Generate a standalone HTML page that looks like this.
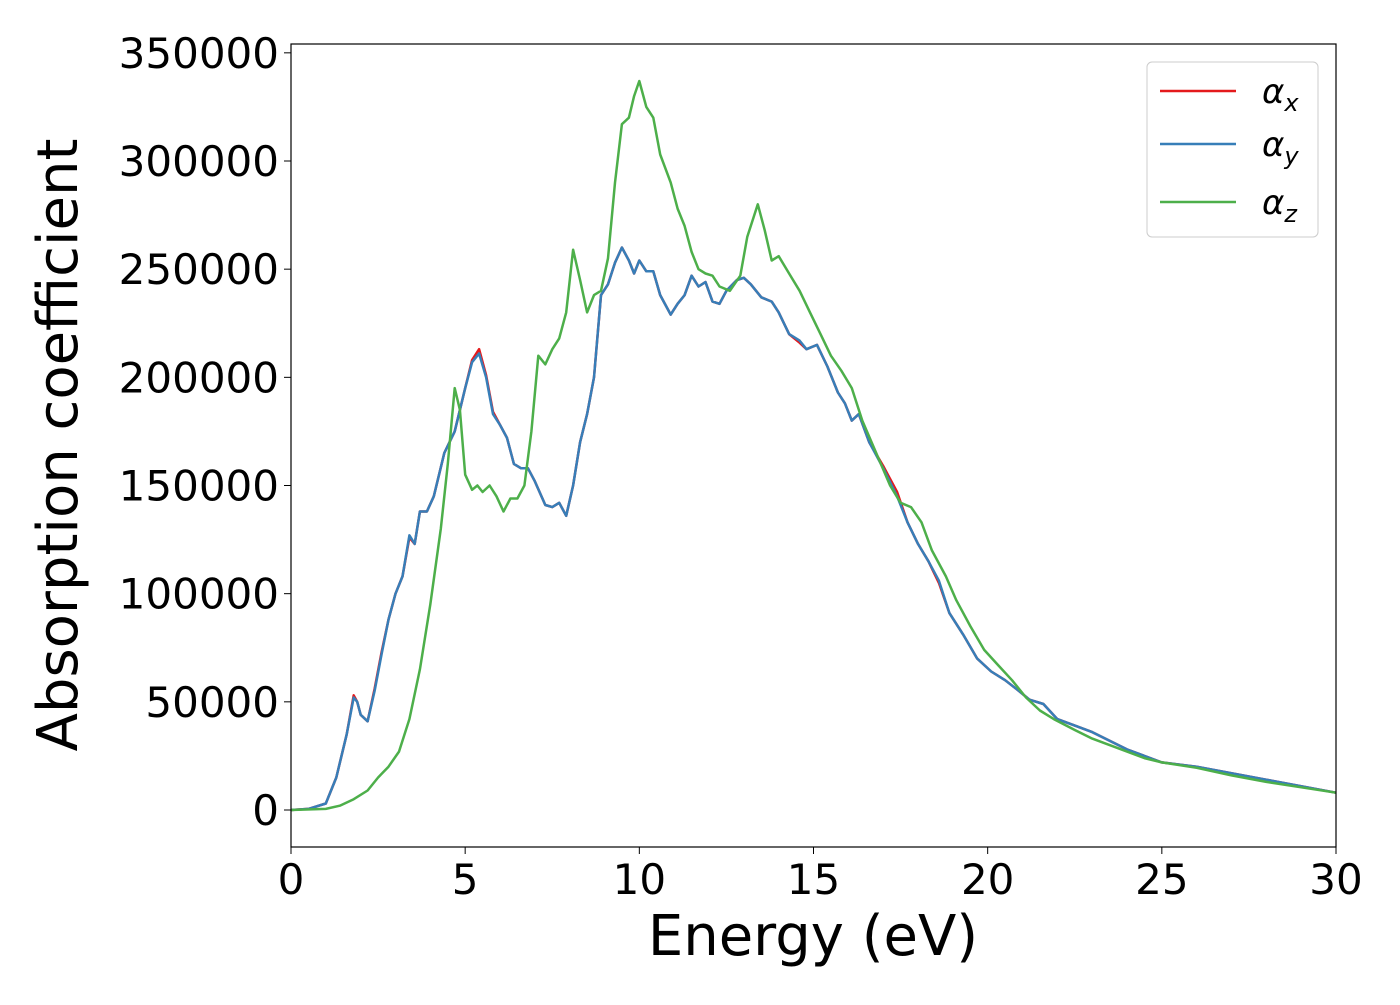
<!DOCTYPE html>
<html><head><meta charset="utf-8"><style>
html,body{margin:0;padding:0;background:#fff;}
svg text{font-family:"DejaVu Sans","Liberation Sans",sans-serif;}
</style></head><body>
<svg id="chart" width="1400" height="1000" viewBox="0 0 1400 1000" xmlns="http://www.w3.org/2000/svg">
<rect width="1400" height="1000" fill="#fff"/>
<g id="ticks"></g>
<g id="series"></g>
<rect x="291" y="44" width="1045" height="803" fill="none" stroke="#000" stroke-width="1.2"/>
<text x="813" y="955" font-size="56" text-anchor="middle">Energy (eV)</text>
<text transform="translate(77,445) rotate(-90)" font-size="56" text-anchor="middle">Absorption coefficient</text>
<g>
<rect x="1147" y="62" width="171" height="175" rx="5" fill="#fff" stroke="#ccc" stroke-width="1"/>
<line x1="1160" y1="91" x2="1236" y2="91" stroke="#e41a1c" stroke-width="2.5"/>
<line x1="1160" y1="144" x2="1236" y2="144" stroke="#377eb8" stroke-width="2.5"/>
<line x1="1160" y1="202" x2="1236" y2="202" stroke="#4daf4a" stroke-width="2.5"/>
<text x="1262" y="103" font-size="34" font-style="italic">α<tspan font-size="24" dy="8">x</tspan></text>
<text x="1262" y="156" font-size="34" font-style="italic">α<tspan font-size="24" dy="8">y</tspan></text>
<text x="1262" y="214" font-size="34" font-style="italic">α<tspan font-size="24" dy="8">z</tspan></text>
</g>
</svg>
<script>
const xTicks=[0,5,10,15,20,25,30];
const yTicks=[0,50000,100000,150000,200000,250000,300000,350000];
const eXY=[0,0.5,1.0,1.3,1.6,1.8,1.9,2.0,2.2,2.4,2.6,2.8,3.0,3.2,3.4,3.55,3.7,3.9,4.1,4.4,4.7,5.0,5.2,5.4,5.6,5.8,6.0,6.2,6.4,6.6,6.8,7.0,7.3,7.5,7.7,7.9,8.1,8.3,8.5,8.7,8.9,9.1,9.3,9.5,9.7,9.85,10.0,10.2,10.4,10.6,10.9,11.1,11.3,11.5,11.7,11.9,12.1,12.3,12.5,12.8,13.0,13.2,13.5,13.8,14.0,14.3,14.6,14.8,15.1,15.4,15.7,15.9,16.1,16.3,16.6,17.0,17.4,17.7,18.0,18.3,18.6,18.9,19.3,19.7,20.1,20.5,20.9,21.2,21.6,22.0,22.5,23.0,23.5,24.0,24.5,25.0,26.0,27.0,28.0,29.0,30.0];
const alphaY=[0,500,3000,15000,35000,52000,50000,44000,41000,55000,72000,88000,100000,108000,127000,123000,138000,138000,145000,165000,175000,195000,207000,211000,200000,183000,178000,172000,160000,158000,158000,152000,141000,140000,142000,136000,150000,170000,183000,200000,238000,243000,253000,260000,254000,248000,254000,249000,249000,238000,229000,234000,238000,247000,242000,244000,235000,234000,240000,245000,246000,243000,237000,235000,230000,220000,217000,213000,215000,205000,193000,188000,180000,183000,170000,158000,145000,133000,123000,115000,106000,91000,81000,70000,64000,60000,55000,51000,49000,42000,39000,36000,32000,28000,25000,22000,20000,17000,14000,11000,8000];
const alphaX=[0,500,3000,15000,35000,53000,50000,44000,41000,56000,73000,88000,100000,108000,126000,123000,138000,138000,145000,165000,175000,195000,208000,213000,201000,184000,178000,172000,160000,158000,158000,152000,141000,140000,142000,136000,150000,170000,183000,200000,238000,243000,253000,260000,254000,248000,254000,249000,249000,238000,229000,234000,238000,247000,242000,244000,235000,234000,240000,245000,246000,243000,237000,235000,230000,220000,216000,213000,215000,205000,193000,188000,180000,183000,170000,159000,147000,133000,123000,115000,105000,91000,81000,70000,64000,60000,55000,51000,49000,42000,39000,36000,32000,28000,25000,22000,20000,17000,14000,11000,8000];
const eZ=[0,1.0,1.4,1.8,2.2,2.5,2.8,3.1,3.4,3.7,4.0,4.3,4.5,4.7,4.85,5.0,5.2,5.35,5.5,5.7,5.9,6.1,6.3,6.5,6.7,6.9,7.1,7.3,7.5,7.7,7.9,8.1,8.3,8.5,8.7,8.9,9.1,9.3,9.5,9.7,9.85,10.0,10.2,10.4,10.6,10.9,11.1,11.3,11.5,11.7,11.9,12.1,12.3,12.6,12.9,13.1,13.4,13.6,13.8,14.0,14.3,14.6,14.9,15.2,15.5,15.8,16.1,16.4,16.8,17.2,17.5,17.8,18.1,18.4,18.8,19.1,19.5,19.9,20.3,20.7,21.1,21.5,21.9,22.5,23.0,23.5,24.0,24.5,25.0,26.0,27.0,28.0,29.0,30.0];
const alphaZ=[0,500,2000,5000,9000,15000,20000,27000,42000,65000,95000,130000,160000,195000,185000,155000,148000,150000,147000,150000,145000,138000,144000,144000,150000,175000,210000,206000,213000,218000,230000,259000,245000,230000,238000,240000,255000,290000,317000,320000,330000,337000,325000,320000,303000,290000,278000,270000,258000,250000,248000,247000,242000,240000,247000,265000,280000,268000,254000,256000,248000,240000,230000,220000,210000,203000,195000,180000,165000,150000,142000,140000,133000,120000,108000,97000,85000,74000,67000,60000,52000,46000,42000,37000,33000,30000,27000,24000,22000,19500,16000,13000,10500,8000];
const NS="http://www.w3.org/2000/svg";
const X0=291,X1=1336,Y0=810,YPER=649/300000;
function sx(v){return X0+(v-0)/30*(X1-X0);}
function sy(v){return Y0-v*YPER;}
const tg=document.getElementById('ticks');
xTicks.forEach(t=>{
 const l=document.createElementNS(NS,'line');
 
 
 l.setAttribute('x1',sx(t));l.setAttribute('x2',sx(t));l.setAttribute('y1',847);l.setAttribute('y2',854);l.setAttribute('stroke','#000');
 tg.appendChild(l);
 const tx=document.createElementNS(NS,'text');
 
 
 tx.setAttribute('x',sx(t));tx.setAttribute('y',894);tx.setAttribute('font-size','42');tx.setAttribute('text-anchor','middle');
 tx.textContent=t;tg.appendChild(tx);
});
yTicks.forEach(t=>{
 const l=document.createElementNS(NS,'line');
 
 
 l.setAttribute('x1',284);l.setAttribute('x2',291);l.setAttribute('y1',sy(t));l.setAttribute('y2',sy(t));l.setAttribute('stroke','#000');
 tg.appendChild(l);
 const tx=document.createElementNS(NS,'text');
 
 
 tx.setAttribute('x',279);tx.setAttribute('y',sy(t)+15);tx.setAttribute('font-size','42');tx.setAttribute('text-anchor','end');
 tx.textContent=t;tg.appendChild(tx);
});
const sg=document.getElementById('series');
function draw(xs,ys,color,name){
 const p=document.createElementNS(NS,'path');
 
 
 p.setAttribute('d',xs.map((e,i)=>(i?'L':'M')+sx(e).toFixed(1)+','+sy(ys[i]).toFixed(1)).join(''));
 p.setAttribute('fill','none');p.setAttribute('stroke',color);p.setAttribute('stroke-width','2.5');p.setAttribute('stroke-linejoin','round');
 sg.appendChild(p);
}
draw(eXY,alphaX,'#e41a1c','series-alpha-x');
draw(eXY,alphaY,'#377eb8','series-alpha-y');
draw(eZ,alphaZ,'#4daf4a','series-alpha-z');
</script>
</body></html>
